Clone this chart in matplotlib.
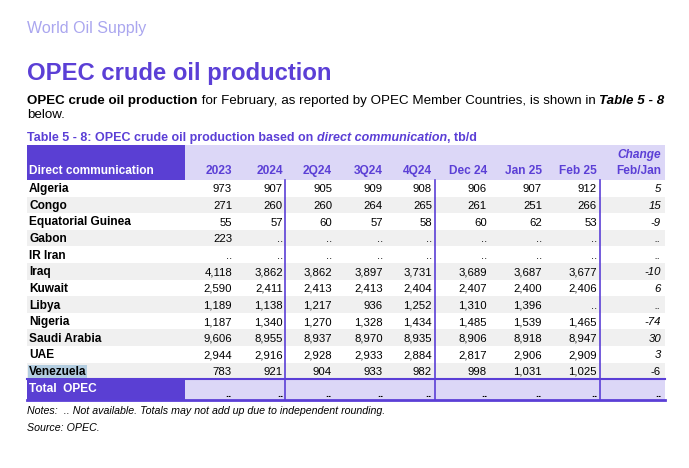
import matplotlib
matplotlib.use("Agg")
import matplotlib.pyplot as plt
from matplotlib.patches import Rectangle

plt.rcParams['font.family'] = ['Liberation Sans', 'DejaVu Sans']

# table data (None = not available, shown as "..")
countries = ["Algeria", "Congo", "Equatorial Guinea", "Gabon", "IR Iran", "Iraq",
             "Kuwait", "Libya", "Nigeria", "Saudi Arabia", "UAE", "Venezuela"]
columns = ["2023", "2024", "2Q24", "3Q24", "4Q24", "Dec 24", "Jan 25", "Feb 25"]

y2023 = [973, 271, 55, 223, None, 4118, 2590, 1189, 1187, 9606, 2944, 783]
y2024 = [907, 260, 57, None, None, 3862, 2411, 1138, 1340, 8955, 2916, 921]
q2_24 = [905, 260, 60, None, None, 3862, 2413, 1217, 1270, 8937, 2928, 904]
q3_24 = [909, 264, 57, None, None, 3897, 2413, 936, 1328, 8970, 2933, 933]
q4_24 = [908, 265, 58, None, None, 3731, 2404, 1252, 1434, 8935, 2884, 982]
dec24 = [906, 261, 60, None, None, 3689, 2407, 1310, 1485, 8906, 2817, 998]
jan25 = [907, 251, 62, None, None, 3687, 2400, 1396, 1539, 8918, 2906, 1031]
feb25 = [912, 266, 53, None, None, 3677, 2406, None, 1465, 8947, 2909, 1025]
change = [5, 15, -9, None, None, -10, 6, None, -74, 30, 3, -6]

series = [y2023, y2024, q2_24, q3_24, q4_24, dec24, jan25, feb25]

PURPLE = "#5b3fd6"
DARK = "#5a3fd3"
LAVENDER = "#dcd7f7"
GREY = "#f0f0f0"

fig = plt.figure(figsize=(6.89, 4.68), dpi=100)
ax = fig.add_axes([0, 0, 1, 1])
ax.set_xlim(0, 689)
ax.set_ylim(468, 0)
ax.axis("off")
renderer = fig.canvas.get_renderer()


def pieces(x, y, parts, size, color="black"):
    # write several styled chunks one after another on the same line
    for txt, weight, style in parts:
        t = ax.text(x, y, txt, fontsize=size, fontweight=weight, fontstyle=style,
                    color=color, va="baseline", ha="left")
        x += t.get_window_extent(renderer).width


def fmt(v):
    return ".." if v is None else f"{v:,}"


ax.text(27, 33, "World Oil Supply", fontsize=11.5, color="#aaa6ef", va="baseline")
ax.text(27, 80, "OPEC crude oil production", fontsize=17.2, fontweight="bold",
        color=PURPLE, va="baseline")
pieces(27, 104, [("OPEC crude oil production", "bold", "normal"),
                 (" for February, as reported by OPEC Member Countries, is shown in ", "normal", "normal"),
                 ("Table 5 - 8", "bold", "italic")], 9.6)
ax.text(27, 118, "below.", fontsize=9.6, va="baseline")
pieces(27, 141, [("Table 5 - 8: OPEC crude oil production based on ", "bold", "normal"),
                 ("direct communication", "bold", "italic"),
                 (", tb/d", "bold", "normal")], 9, color=PURPLE)

# layout
left, split, right = 27, 185, 665
col_right = [232, 283, 332, 383, 432, 487, 542, 597, 661]
vlines = [284.5, 435, 599.5]
head_top, head_bot = 145, 180
pitch = 16.6
total_top = head_bot + pitch * len(countries)
total_bot = total_top + 21

# header
ax.add_patch(Rectangle((left, head_top), split - left, head_bot - head_top, color=DARK, lw=0))
ax.add_patch(Rectangle((split, head_top), right - split, head_bot - head_top, color=LAVENDER, lw=0))
ax.text(left + 2, 174, "Direct communication", fontsize=8.6, fontweight="bold", color="white", va="baseline")
for c, xr in zip(columns + ["Feb/Jan"], col_right):
    ax.text(xr, 174, c, fontsize=8.6, fontweight="bold", color=PURPLE, ha="right", va="baseline")
ax.text(col_right[-1], 158, "Change", fontsize=8.6, fontweight="bold", fontstyle="italic",
        color=PURPLE, ha="right", va="baseline")

# body rows
for i, name in enumerate(countries):
    top = head_bot + i * pitch
    if i % 2 == 1:
        ax.add_patch(Rectangle((left, top), right - left, pitch, color=GREY, lw=0))
    base = top + pitch / 2 + 4
    box = dict(boxstyle="square,pad=0.05", fc="#b3cde0", ec="none") if name == "Venezuela" else None
    ax.text(left + 2, base, name, fontsize=8.6, fontweight="bold", va="baseline", bbox=box)
    for s, xr in zip(series, col_right):
        ax.text(xr, base, fmt(s[i]), fontsize=8.2, ha="right", va="baseline")
    ax.text(col_right[-1], base, fmt(change[i]), fontsize=8.2, ha="right", va="baseline",
            fontstyle="normal" if name == "Venezuela" else "italic")

# total row
ax.add_patch(Rectangle((left, total_top), split - left, total_bot - total_top, color=DARK, lw=0))
ax.add_patch(Rectangle((split, total_top), right - split, total_bot - total_top, color=LAVENDER, lw=0))
ax.text(left + 2, total_top + 13, "Total  OPEC", fontsize=8.6, fontweight="bold", color="white", va="baseline")
for xr in col_right:
    ax.text(xr, total_bot - 3, "..", fontsize=8.2, fontweight="bold", ha="right", va="baseline")

ax.plot([left, right], [total_top, total_top], color=PURPLE, lw=1.5)
ax.plot([left, right], [total_bot, total_bot], color=PURPLE, lw=2)
for xv in vlines:
    ax.plot([xv, xv], [head_bot, total_bot], color=PURPLE, lw=1.2)

ax.text(27, 414, "Notes:  .. Not available. Totals may not add up due to independent rounding.",
        fontsize=7.7, fontstyle="italic", va="baseline")
ax.text(27, 431, "Source: OPEC.", fontsize=7.7, fontstyle="italic", va="baseline")

fig.savefig("out.png", dpi=100)
